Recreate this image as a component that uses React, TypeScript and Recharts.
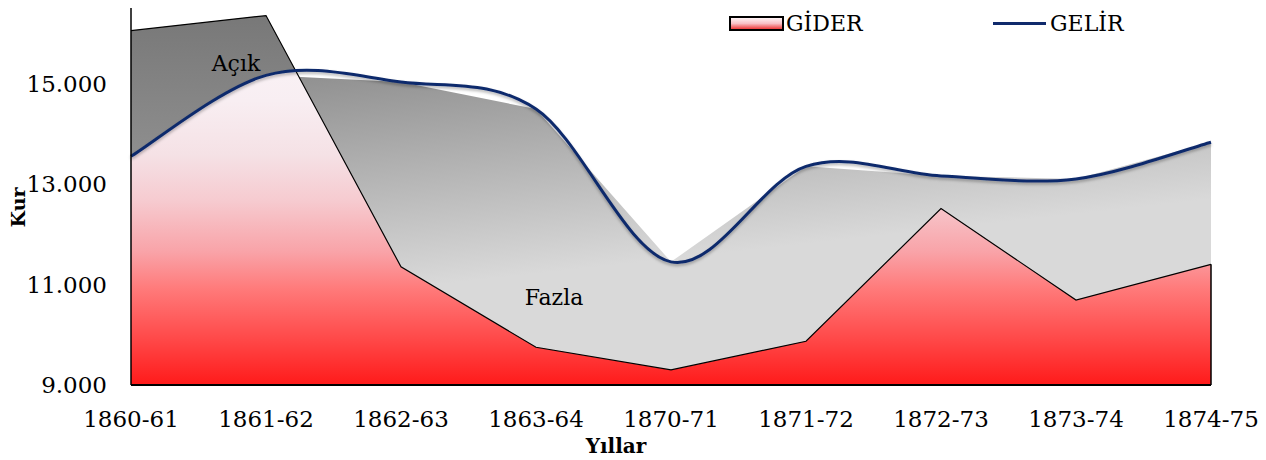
import React from "react";
import {
  ComposedChart,
  Area,
  Line,
  XAxis,
  YAxis,
  ReferenceLine,
  ReferenceDot,
} from "recharts";

// yıllar ve değerler (kur)
const years = [
  "1860-61",
  "1861-62",
  "1862-63",
  "1863-64",
  "1870-71",
  "1871-72",
  "1872-73",
  "1873-74",
  "1874-75",
];
const gider = [16050, 16350, 11350, 9750, 9300, 9870, 12510, 10690, 11400];
const gelir = [13550, 15160, 15030, 14490, 11450, 13350, 13160, 13100, 13830];
const yTicks = [9000, 11000, 13000, 15000];

const rows = years.map((year, i) => ({ year, gider: gider[i], gelir: gelir[i] }));

const SERIF = "DejaVu Serif";
const NAVY = "#102a6c";

type Pt = [number, number];

// excel tarzı yumuşatma: catmull-rom kontrol noktaları
const ctrl = (p: Pt[], i: number): [Pt, Pt] => {
  const p0 = p[Math.max(i - 1, 0)];
  const p1 = p[i];
  const p2 = p[i + 1];
  const p3 = p[Math.min(i + 2, p.length - 1)];
  return [
    [p1[0] + (p2[0] - p0[0]) / 6, p1[1] + (p2[1] - p0[1]) / 6],
    [p2[0] - (p3[0] - p1[0]) / 6, p2[1] - (p3[1] - p1[1]) / 6],
  ];
};

const smoothCurve = (ctx: any) => {
  let pts: Pt[] = [];
  let line = NaN;
  return {
    areaStart() {
      line = 0;
    },
    areaEnd() {
      line = NaN;
    },
    lineStart() {
      pts = [];
    },
    point(x: number, y: number) {
      pts.push([+x, +y]);
    },
    lineEnd() {
      if (pts.length) {
        if (line) ctx.lineTo(pts[0][0], pts[0][1]);
        else ctx.moveTo(pts[0][0], pts[0][1]);
        for (let i = 0; i < pts.length - 1; i++) {
          const [c1, c2] = ctrl(pts, i);
          ctx.bezierCurveTo(c1[0], c1[1], c2[0], c2[1], pts[i + 1][0], pts[i + 1][1]);
        }
      }
      if (line || (line !== 0 && pts.length === 1)) ctx.closePath();
      line = 1 - line;
    },
  };
};

// açık bölgesi: gider (doğrusal) ile gelir eğrisi (yumuşak) arası, gider üstteyken
const deficitCurve = (ctx: any) => {
  let cur: Pt[] = [];
  let top: Pt[] = [];
  let base: Pt[] = [];
  let nLines = 0;
  let inArea = false;

  const topAt = (x: number) => {
    for (let j = 0; j < top.length - 1; j++) {
      const a = top[j];
      const b = top[j + 1];
      if (x <= b[0] || j === top.length - 2) {
        const f = b[0] === a[0] ? 0 : (x - a[0]) / (b[0] - a[0]);
        return a[1] + f * (b[1] - a[1]);
      }
    }
    return top.length ? top[0][1] : 0;
  };

  const draw = () => {
    if (top.length < 2 || base.length < 2) return;
    const samples: Pt[] = [];
    const steps = 40;
    for (let i = 0; i < base.length - 1; i++) {
      const [c1, c2] = ctrl(base, i);
      const p1 = base[i];
      const p2 = base[i + 1];
      for (let k = 0; k < steps; k++) {
        const t = k / steps;
        const u = 1 - t;
        samples.push([
          u * u * u * p1[0] + 3 * u * u * t * c1[0] + 3 * u * t * t * c2[0] + t * t * t * p2[0],
          u * u * u * p1[1] + 3 * u * u * t * c1[1] + 3 * u * t * t * c2[1] + t * t * t * p2[1],
        ]);
      }
    }
    samples.push(base[base.length - 1]);

    let runT: Pt[] = [];
    let runB: Pt[] = [];
    const flush = () => {
      if (runT.length > 1) {
        ctx.moveTo(runT[0][0], runT[0][1]);
        for (let i = 1; i < runT.length; i++) ctx.lineTo(runT[i][0], runT[i][1]);
        for (let i = runB.length - 1; i >= 0; i--) ctx.lineTo(runB[i][0], runB[i][1]);
        ctx.closePath();
      }
      runT = [];
      runB = [];
    };

    let prev: { x: number; yt: number; d: number } | null = null;
    samples.forEach(([x, yb]) => {
      const yt = topAt(x);
      const d = yb - yt;
      if (prev && prev.d > 0 !== d > 0) {
        const f = prev.d / (prev.d - d);
        const cx = prev.x + f * (x - prev.x);
        const cy = prev.yt + f * (yt - prev.yt);
        runT.push([cx, cy]);
        runB.push([cx, cy]);
        if (!(d > 0)) flush();
      }
      if (d > 0) {
        runT.push([x, yt]);
        runB.push([x, yb]);
      }
      prev = { x, yt, d };
    });
    flush();
  };

  return {
    areaStart() {
      inArea = true;
      nLines = 0;
    },
    areaEnd() {
      draw();
      inArea = false;
    },
    lineStart() {
      cur = [];
    },
    point(x: number, y: number) {
      cur.push([+x, +y]);
    },
    lineEnd() {
      if (inArea) {
        if (nLines === 0) top = cur;
        else base = cur.slice().reverse();
        nLines++;
      } else if (cur.length) {
        ctx.moveTo(cur[0][0], cur[0][1]);
        for (let i = 1; i < cur.length; i++) ctx.lineTo(cur[i][0], cur[i][1]);
      }
    },
  };
};

const fmt = (v: number) =>
  `${Math.floor(v / 1000)}.${String(v % 1000).padStart(3, "0")}`;

const noteLabel = (text: string, dx: number) => (props: any) => {
  const vb = props.viewBox || {};
  const cx = (vb.x ?? vb.cx ?? 0) + (vb.width ?? 0) / 2;
  const cy = (vb.y ?? vb.cy ?? 0) + (vb.height ?? 0) / 2;
  return (
    <text
      x={cx + dx}
      y={cy}
      textAnchor="middle"
      dominantBaseline="central"
      fontSize={22}
      fontFamily={SERIF}
      fill="#000"
    >
      {text}
    </text>
  );
};

const kurLabel = (props: any) => {
  const vb = props.viewBox || { x: 0, y: 8, width: 131, height: 377 };
  const x = vb.x + 25;
  const y = vb.y + vb.height / 2 + 11;
  return (
    <text
      x={x}
      y={y}
      transform={`rotate(-90, ${x}, ${y})`}
      textAnchor="middle"
      fontSize={19}
      fontWeight="bold"
      fontFamily={SERIF}
      fill="#000"
    >
      Kur
    </text>
  );
};

const yillarLabel = (props: any) => {
  const vb = props.viewBox || { x: 131, y: 385, width: 1080, height: 75 };
  return (
    <text
      x={vb.x + vb.width / 2 - 55}
      y={vb.y + 68}
      textAnchor="middle"
      fontSize={20}
      fontWeight="bold"
      fontFamily={SERIF}
      fill="#000"
    >
      Yıllar
    </text>
  );
};

const ChartLegend = () => (
  <>
    <div
      style={{
        position: "absolute",
        left: 729,
        top: 16,
        width: 51,
        height: 11,
        border: "2px solid #000",
        background: "linear-gradient(#fff4f6, #f8c0c6 50%, #ee3b3b)",
      }}
    />
    <div
      style={{
        position: "absolute",
        left: 786,
        top: 11,
        fontFamily: SERIF,
        fontSize: 22,
        lineHeight: "26px",
        color: "#000",
      }}
    >
      GİDER
    </div>
    <div
      style={{
        position: "absolute",
        left: 993,
        top: 22,
        width: 53,
        height: 3,
        background: NAVY,
      }}
    />
    <div
      style={{
        position: "absolute",
        left: 1050,
        top: 11,
        fontFamily: SERIF,
        fontSize: 22,
        lineHeight: "26px",
        color: "#000",
      }}
    >
      GELİR
    </div>
  </>
);

export default function App() {
  return (
    <div
      style={{
        position: "absolute",
        left: 0,
        top: 0,
        width: 1266,
        height: 460,
        background: "#fff",
      }}
    >
      <ComposedChart
        width={1266}
        height={460}
        data={rows}
        margin={{ top: 8, right: 55, bottom: 0, left: 0 }}
      >
        <defs>
          <linearGradient id="redFill" x1="0" y1="0" x2="0" y2="1">
            <stop offset="0" stopColor="#fbf6f9" />
            <stop offset="0.23" stopColor="#f8eef2" />
            <stop offset="0.38" stopColor="#f5e1e5" />
            <stop offset="0.5" stopColor="#f6cbd0" />
            <stop offset="0.64" stopColor="#f9a3a8" />
            <stop offset="0.74" stopColor="#ff7a7a" />
            <stop offset="0.88" stopColor="#ff4747" />
            <stop offset="1" stopColor="#ff1a1a" />
          </linearGradient>
          <linearGradient id="fazlaFill" x1="0.1" y1="0" x2="0.35" y2="0.65">
            <stop offset="0" stopColor="#8e8e8e" />
            <stop offset="1" stopColor="#d9d9d9" />
          </linearGradient>
          <linearGradient id="acikFill" x1="0" y1="0" x2="0" y2="1">
            <stop offset="0" stopColor="#787878" />
            <stop offset="1" stopColor="#8e8e8e" />
          </linearGradient>
          <filter id="lineShadow" x="-5%" y="-20%" width="110%" height="140%">
            <feDropShadow dx="0" dy="2" stdDeviation="1.5" floodColor="#000" floodOpacity="0.3" />
          </filter>
        </defs>
        <XAxis
          dataKey="year"
          type="category"
          scale="point"
          padding={{ left: 0, right: 0 }}
          interval={0}
          height={75}
          tickLine={false}
          tickSize={0}
          tickMargin={26}
          axisLine={{ stroke: "#000", strokeWidth: 2 }}
          tick={{ fill: "#000", fontSize: 23, fontFamily: SERIF }}
          label={{ content: yillarLabel }}
        />
        <YAxis
          type="number"
          domain={[9000, 16500]}
          ticks={yTicks}
          width={131}
          tickLine={false}
          tickSize={0}
          tickMargin={24}
          tickFormatter={fmt}
          axisLine={{ stroke: "#000", strokeWidth: 1.5 }}
          tick={{ fill: "#000", fontSize: 23, fontFamily: SERIF }}
          label={{ content: kurLabel }}
        />
        {/* fazla: gelir altı gri */}
        <Area
          dataKey="gelir"
          type="linear"
          fill="url(#fazlaFill)"
          fillOpacity={1}
          stroke="none"
          baseValue={9000}
          legendType="none"
          isAnimationActive={false}
        />
        {/* gider: kırmızı */}
        <Area
          dataKey="gider"
          type="linear"
          fill="url(#redFill)"
          fillOpacity={1}
          stroke="none"
          baseValue={9000}
          legendType="none"
          isAnimationActive={false}
        />
        {/* açık: gider gelirden büyükken */}
        <Area
          dataKey={(d: any) => [d.gelir, d.gider]}
          type={deficitCurve as any}
          fill="url(#acikFill)"
          fillOpacity={1}
          stroke="none"
          legendType="none"
          isAnimationActive={false}
        />
        <ReferenceLine
          segment={[
            { x: years[years.length - 1], y: 9000 },
            { x: years[years.length - 1], y: gider[gider.length - 1] },
          ]}
          stroke="#000"
          strokeWidth={1.5}
        />
        <Line
          dataKey="gider"
          type="linear"
          stroke="#000"
          strokeWidth={1.2}
          dot={false}
          activeDot={false}
          legendType="none"
          isAnimationActive={false}
        />
        <Line
          dataKey="gelir"
          name="GELİR"
          type={smoothCurve as any}
          stroke={NAVY}
          strokeWidth={3}
          filter="url(#lineShadow)"
          dot={false}
          activeDot={false}
          isAnimationActive={false}
        />
        <ReferenceDot
          x="1861-62"
          y={15390}
          r={0}
          fill="none"
          stroke="none"
          label={{ content: noteLabel("Açık", -30) }}
        />
        <ReferenceDot
          x="1863-64"
          y={10750}
          r={0}
          fill="none"
          stroke="none"
          label={{ content: noteLabel("Fazla", 18) }}
        />
      </ComposedChart>
      <ChartLegend />
    </div>
  );
}
